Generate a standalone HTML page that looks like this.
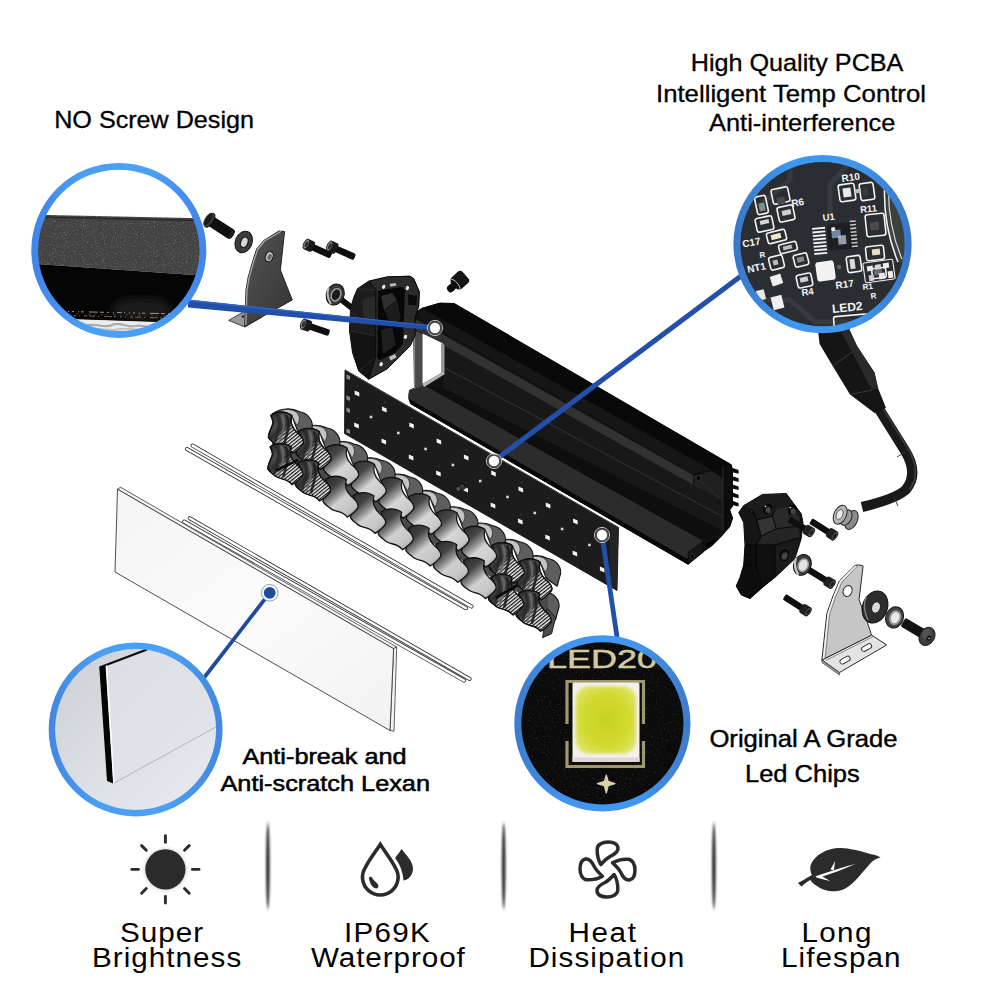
<!DOCTYPE html>
<html lang="en"><head><meta charset="utf-8"><title>LED light bar exploded view</title>
<style>
html,body{margin:0;padding:0;background:#fff;}
body{width:1001px;height:1001px;overflow:hidden;font-family:"Liberation Sans",sans-serif;}
svg{display:block;}
svg text{font-family:"Liberation Sans",sans-serif;}
</style></head><body>
<svg width="1001" height="1001" viewBox="0 0 1001 1001">
<defs>
<clipPath id="c1"><circle cx="118.8" cy="250.4" r="81.5"/></clipPath>
<clipPath id="c2"><circle cx="822.5" cy="244.2" r="82.8"/></clipPath>
<clipPath id="c3"><circle cx="602.4" cy="723.4" r="81.8"/></clipPath>
<clipPath id="c4"><circle cx="135.6" cy="729.5" r="81"/></clipPath>
<linearGradient id="rg1" x1="0" y1="0" x2="1" y2="0"><stop offset="0" stop-color="#4285eb"/><stop offset="0.3" stop-color="#4aa0f4"/><stop offset="0.7" stop-color="#4aa0f4"/><stop offset="1" stop-color="#4285eb"/></linearGradient>
<linearGradient id="rg2" x1="0" y1="0" x2="1" y2="0"><stop offset="0" stop-color="#3a78c8"/><stop offset="0.3" stop-color="#3f97ee"/><stop offset="0.7" stop-color="#3f97ee"/><stop offset="1" stop-color="#3a78c8"/></linearGradient>
<linearGradient id="rg3" x1="0" y1="0" x2="1" y2="0"><stop offset="0" stop-color="#3e7dcd"/><stop offset="0.3" stop-color="#4096f0"/><stop offset="0.7" stop-color="#4096f0"/><stop offset="1" stop-color="#3e7dcd"/></linearGradient>
<linearGradient id="rg4" x1="0" y1="0" x2="1" y2="0"><stop offset="0" stop-color="#4488e2"/><stop offset="0.3" stop-color="#4aa0f4"/><stop offset="0.7" stop-color="#4aa0f4"/><stop offset="1" stop-color="#4488e2"/></linearGradient>
<linearGradient id="ring1" x1="0" y1="0" x2="0" y2="1"><stop offset="0" stop-color="#3d8fe8"/><stop offset="1" stop-color="#3a86dc"/></linearGradient>
<linearGradient id="cupg" x1="0.15" y1="0" x2="0.85" y2="1">
 <stop offset="0" stop-color="#303030"/><stop offset="0.25" stop-color="#474747"/><stop offset="0.42" stop-color="#909090"/><stop offset="0.56" stop-color="#d6d6d6"/><stop offset="0.85" stop-color="#cacaca"/><stop offset="1" stop-color="#9c9c9c"/>
</linearGradient>
<linearGradient id="cupg2" x1="0.15" y1="0" x2="0.85" y2="1">
 <stop offset="0" stop-color="#2c2c2c"/><stop offset="0.25" stop-color="#434343"/><stop offset="0.42" stop-color="#8a8a8a"/><stop offset="0.56" stop-color="#d0d0d0"/><stop offset="0.85" stop-color="#c4c4c4"/><stop offset="1" stop-color="#969696"/>
</linearGradient>
<linearGradient id="capg" x1="0" y1="0" x2="1" y2="0.4">
 <stop offset="0" stop-color="#e8e8e8"/><stop offset="0.5" stop-color="#a8a8a8"/><stop offset="1" stop-color="#3a3a3a"/>
</linearGradient>
<linearGradient id="glassg" x1="0" y1="0" x2="1" y2="1"><stop offset="0" stop-color="#f4f4f4"/><stop offset="0.5" stop-color="#fbfbfb"/><stop offset="1" stop-color="#f2f2f2"/></linearGradient>
<linearGradient id="lexg" x1="0" y1="0" x2="1" y2="1"><stop offset="0" stop-color="#c9ccd1"/><stop offset="0.5" stop-color="#dcdfe4"/><stop offset="1" stop-color="#eaeef5"/></linearGradient>
<linearGradient id="divg" x1="0" y1="0" x2="0" y2="1"><stop offset="0" stop-color="#555" stop-opacity="0"/><stop offset="0.25" stop-color="#444" stop-opacity="0.95"/><stop offset="0.75" stop-color="#444" stop-opacity="0.95"/><stop offset="1" stop-color="#555" stop-opacity="0"/></linearGradient>
<linearGradient id="brkR" x1="0" y1="0" x2="1" y2="1"><stop offset="0" stop-color="#d2d2d2"/><stop offset="1" stop-color="#a9a9a9"/></linearGradient>
<linearGradient id="brkL" x1="0" y1="0" x2="1" y2="1"><stop offset="0" stop-color="#555"/><stop offset="1" stop-color="#333"/></linearGradient>
<linearGradient id="cabg" x1="0" y1="0" x2="1" y2="0"><stop offset="0" stop-color="#111"/><stop offset="0.6" stop-color="#222"/><stop offset="1" stop-color="#3a3a3a"/></linearGradient>
<radialGradient id="ledg" cx="0.5" cy="0.5" r="0.65"><stop offset="0" stop-color="#c8d222"/><stop offset="0.6" stop-color="#d2da30"/><stop offset="1" stop-color="#e2e670"/></radialGradient>
<filter id="speck" x="0" y="0" width="100%" height="100%"><feTurbulence type="fractalNoise" baseFrequency="0.9" numOctaves="2" seed="3" result="n"/><feColorMatrix type="matrix" values="0 0 0 0 0.62  0 0 0 0 0.62  0 0 0 0 0.62  0 0 0 2.2 -1.25"/></filter>
<filter id="speck2" x="0" y="0" width="100%" height="100%"><feTurbulence type="fractalNoise" baseFrequency="0.5" numOctaves="2" seed="11" result="n"/><feColorMatrix type="matrix" values="0 0 0 0 0.55  0 0 0 0 0.58  0 0 0 0 0.55  0 0 0 2.5 -1.55"/></filter>
<filter id="blur08" x="-300%" y="-10%" width="700%" height="120%"><feGaussianBlur stdDeviation="0.9 2.2"/></filter>
<filter id="blur1"><feGaussianBlur stdDeviation="0.6"/></filter>
<filter id="blur2"><feGaussianBlur stdDeviation="1.5"/></filter>
<filter id="blur4"><feGaussianBlur stdDeviation="4"/></filter>
<pattern id="hatch" width="2.7" height="2.7" patternUnits="userSpaceOnUse" patternTransform="rotate(51)"><rect width="2.7" height="2.7" fill="#f4f4f4"/><rect width="1.25" height="2.7" fill="#111"/></pattern>
<linearGradient id="hmg" x1="0.1" y1="0" x2="0.9" y2="1"><stop offset="0" stop-color="#000"/><stop offset="0.42" stop-color="#000"/><stop offset="0.55" stop-color="#fff"/><stop offset="1" stop-color="#fff"/></linearGradient>
<mask id="hm" maskContentUnits="objectBoundingBox"><rect x="-0.1" y="-0.1" width="1.2" height="1.2" fill="url(#hmg)"/></mask>
<linearGradient id="cupd" x1="0.15" y1="0" x2="0.85" y2="1"><stop offset="0" stop-color="#2a2a2a"/><stop offset="0.25" stop-color="#4c4c4c"/><stop offset="0.4" stop-color="#2e2e2e"/><stop offset="0.55" stop-color="#6a6a6a"/><stop offset="1" stop-color="#8a8a8a"/></linearGradient>
</defs>
<g id="cable">
<path d="M879,409 L904,449 Q919.5,473 906,489.5 Q897,498.5 862,507" fill="none" stroke="#191919" stroke-width="10.2" stroke-linecap="butt" stroke-linejoin="round"/>
<path d="M882.5,408 L907.5,448 Q922,472 909.5,489.5" fill="none" stroke="#4a4a4a" stroke-width="1.4" opacity="0.8"/>
<path d="M905.5,452 L897,457 M894,497 L898,506" stroke="#333" stroke-width="0.9"/>
<path d="M858.0,396.0 L872.0,390.0" stroke="#2f2f2f" stroke-width="1.1"/>
<path d="M860.6,398.6 L874.6,392.6" stroke="#2f2f2f" stroke-width="1.1"/>
<path d="M863.2,401.2 L877.2,395.2" stroke="#2f2f2f" stroke-width="1.1"/>
<path d="M865.8,403.8 L879.8,397.8" stroke="#2f2f2f" stroke-width="1.1"/>
<path d="M868.4,406.4 L882.4,400.4" stroke="#2f2f2f" stroke-width="1.1"/>
<polygon points="817.0,322.0 846.0,322.0 857.0,346.0 874.5,372.5 878.0,388.0 886.0,408.0 874.5,413.0 860.0,402.0 850.0,394.5 832.7,366.0 819.6,344.0" fill="#151515" />
<polygon points="846.0,322.0 857.0,346.0 874.5,372.5 878.0,388.0 872.0,390.0 852.0,352.0 840.0,330.0" fill="#2a2a2a" />
<path d="M832.7,366 L852,352 M850,394.5 L872,390" stroke="#3a3a3a" stroke-width="1" fill="none"/>
</g>
<g id="housing">
<polygon points="413.0,314.0 421.6,308.0 439.6,302.8 454.0,303.0 731.5,464.5 733.0,470.0 733.0,506.0 730.0,510.0 733.0,518.0 730.0,527.0 721.7,536.5 712.0,546.3 703.5,552.0 688.0,564.5 410.5,404.0 408.5,398.5 408.5,393.0 414.0,388.0" fill="#111111" />
<polygon points="731.0,467.5 738.6,470.1 738.6,473.7 731.0,471.9" fill="#0d0d0d" />
<polygon points="731.0,475.7 738.6,478.3 738.6,481.9 731.0,480.1" fill="#0d0d0d" />
<polygon points="731.0,483.9 738.6,486.5 738.6,490.1 731.0,488.3" fill="#0d0d0d" />
<polygon points="731.0,492.1 738.6,494.7 738.6,498.3 731.0,496.5" fill="#0d0d0d" />
<polygon points="731.0,500.3 738.6,502.9 738.6,506.5 731.0,504.7" fill="#0d0d0d" />
<polygon points="421.6,308.0 439.6,302.8 454.0,303.0 731.5,464.5 712.0,470.0" fill="#090909" />
<polygon points="413.0,314.0 421.6,308.0 712.0,470.0 693.0,474.0" fill="#161616" />
<polygon points="413.5,318.0 693.0,475.0 693.0,486.0 414.0,329.0" fill="#323232" />
<polygon points="414.0,329.0 693.0,486.0 693.0,491.0 414.0,334.0" fill="#0a0a0a" />
<polygon points="443.0,345.0 723.0,501.5 723.0,531.0 443.0,388.0" fill="#181818" />
<polygon points="443.0,366.0 723.0,516.0 723.0,517.6 443.0,367.8" fill="#2a2a2a" />
<polygon points="409.0,390.0 422.0,384.0 703.5,541.0 703.5,552.0 688.0,564.5 410.5,404.0 408.5,398.5" fill="#2c2c2c" />
<polygon points="408.5,398.5 688.0,559.3 688.0,564.5 410.5,404.0" fill="#070707" />
<polygon points="422.0,384.0 443.0,388.0 723.0,531.0 703.5,541.0" fill="#0e0e0e" />
<polygon points="414.0,330.0 422.5,334.0 422.5,386.0 414.0,389.0" fill="#4a4a4a" />
<path d="M414.6,330 L414.6,389" stroke="#8a8a8a" stroke-width="1"/>
<polygon points="422.5,333.5 443.0,343.5 443.0,372.0 422.5,384.0" fill="#ffffff" />
<polygon points="441.0,343.0 444.5,345.0 444.5,373.0 441.0,374.0" fill="#9a9a9a" />
<polygon points="422.5,384.0 443.0,372.0 445.0,374.0 424.0,387.0" fill="#b5b5b5" />
<polygon points="693.0,474.0 712.0,470.0 731.5,464.5 733.0,470.0 733.0,506.0 730.0,510.0 733.0,518.0 730.0,527.0 723.0,531.0 723.0,501.5" fill="#0c0c0c" />
<polygon points="694.0,476.0 712.0,471.0 723.0,478.0 723.0,501.0 694.0,486.0" fill="#202020" />
<path d="M723,466.6 L723,531 M694,476 L723,501" stroke="#2e2e2e" stroke-width="0.9" fill="none"/>
<circle cx="698.5" cy="478" r="2.6" fill="#050505" stroke="#3a3a3a" stroke-width="0.8"/>
<circle cx="706" cy="474" r="1.5" fill="#050505" stroke="#3a3a3a" stroke-width="0.6"/>
<polygon points="688.0,552.5 703.5,541.0 703.5,552.0 688.0,564.5" fill="#151515" stroke="#000" stroke-width="0.5" stroke-linejoin="round" />
<circle cx="692.5" cy="556.5" r="2.4" fill="#050505" stroke="#3a3a3a" stroke-width="0.8"/>
<polygon points="705.0,545.0 716.0,538.0 716.0,541.0 705.0,549.0" fill="#000" />
</g>
<g id="leftparts">
<g transform="translate(209.7,220.3) rotate(33)"><rect x="0" y="-5.4" width="27" height="10.8" rx="3" fill="#0f0f0f"/><ellipse cx="26" cy="0" rx="2.2" ry="5.2" fill="#1e1e1e"/><ellipse cx="0" cy="0" rx="3.6" ry="8" fill="#2e2e2e" stroke="#0a0a0a" stroke-width="0.8"/><ellipse cx="-1.6" cy="0" rx="3.2" ry="7.4" fill="#1a1a1a" stroke="#555" stroke-width="0.7"/></g>
<ellipse cx="243.7" cy="242" rx="8.4" ry="11" transform="rotate(22 243.7 242)" fill="#3c3c3c" stroke="#151515" stroke-width="1"/><ellipse cx="244.3" cy="242.3" rx="3.6" ry="5.4" transform="rotate(22 244.3 242.3)" fill="#d4d4d4" stroke="#161616" stroke-width="1.2"/>
<polygon points="228.6,320.4 245.0,311.0 262.0,317.0 245.0,327.0" fill="#9a9a9a" stroke="#222" stroke-width="0.8" stroke-linejoin="round" />
<polygon points="284.6,231.5 279.0,231.0 263.6,240.6 256.6,249.0 253.0,260.2 248.2,277.0 246.0,289.6 244.7,326.5 292.3,300.0 280.4,270.0" fill="url(#brkL)" stroke="#1a1a1a" stroke-width="0.9" stroke-linejoin="round" />
<path d="M281,231.3 L264.5,241 L257.6,249.5 L254,260.5 L249.2,277.2 L247,289.8 L245.8,325" fill="none" stroke="#a8a8a8" stroke-width="1.3" stroke-linejoin="round"/>
<ellipse cx="269.2" cy="256.7" rx="3.8" ry="5.2" transform="rotate(22 269.2 256.7)" fill="#c2c2c2" stroke="#111" stroke-width="1"/><ellipse cx="269.6" cy="257" rx="2" ry="3.2" transform="rotate(22 269.6 257)" fill="#6a6a6a"/>
<circle cx="243" cy="316.5" r="1.3" fill="#222"/>
<g transform="translate(304,243) rotate(25)"><rect x="9" y="-3.3" width="21" height="6.6" rx="2" fill="#0e0e0e"/><rect x="0.5" y="-5.7" width="10" height="11.4" rx="2.6" fill="#1a1a1a"/><ellipse cx="2.4" cy="0" rx="2.5" ry="5.3" fill="#8c8c8c" stroke="#1a1a1a" stroke-width="0.8"/><ellipse cx="2.7" cy="0" rx="1.4" ry="3.2" fill="#2e2e2e"/></g>
<g transform="translate(327.4,245) rotate(24)"><rect x="9" y="-3.3" width="21" height="6.6" rx="2" fill="#0e0e0e"/><rect x="0.5" y="-5.7" width="10" height="11.4" rx="2.6" fill="#1a1a1a"/><ellipse cx="2.4" cy="0" rx="2.5" ry="5.3" fill="#8c8c8c" stroke="#1a1a1a" stroke-width="0.8"/><ellipse cx="2.7" cy="0" rx="1.4" ry="3.2" fill="#2e2e2e"/></g>
<g transform="translate(301,323.3) rotate(19)"><rect x="9" y="-3.3" width="21" height="6.6" rx="2" fill="#0e0e0e"/><rect x="0.5" y="-5.7" width="10" height="11.4" rx="2.6" fill="#1a1a1a"/><ellipse cx="2.4" cy="0" rx="2.5" ry="5.3" fill="#8c8c8c" stroke="#1a1a1a" stroke-width="0.8"/><ellipse cx="2.7" cy="0" rx="1.4" ry="3.2" fill="#2e2e2e"/></g>
<g transform="translate(338,297) rotate(38)"><rect x="0" y="-3" width="22" height="6" fill="#0e0e0e"/></g>
<ellipse cx="335.2" cy="294.5" rx="8.8" ry="10.8" transform="rotate(22 335.2 294.5)" fill="#383838" stroke="#141414" stroke-width="1"/>
<path d="M328.6,288 Q325.8,296 331,304" fill="none" stroke="#b8b8b8" stroke-width="2"/>
<ellipse cx="336" cy="294.8" rx="4.6" ry="6.4" transform="rotate(22 336 294.8)" fill="#1a1a1a" stroke="#a8a8a8" stroke-width="1.4"/>
<polygon points="357.5,288.7 368.7,281.2 387.4,276.9 410.0,276.2 413.7,278.7 419.3,291.8 418.7,306.2 415.0,317.4 415.0,335.0 410.0,346.0 398.7,357.4 387.4,368.6 368.7,379.2 358.7,371.0 352.5,352.4 349.4,330.0 350.6,308.7 353.7,297.5" fill="#161616" stroke="#000" stroke-width="0.9" stroke-linejoin="round" />
<polygon points="357.5,288.7 368.7,281.2 376.0,290.0 375.6,357.4 368.7,379.2 358.7,371.0 352.5,352.4 349.4,330.0 350.6,308.7" fill="#1c1c1c" />
<polygon points="362.0,300.0 375.0,296.0 375.6,318.0 364.0,322.0" fill="#2a2a2a" />
<polygon points="351.0,331.0 375.6,336.0 375.6,357.4 368.7,379.2 358.7,371.0 352.5,352.4" fill="#131313" />
<path d="M357.5,288.7 L376,290 M350,312 L364,322 L375.6,318 M351,331 L375.6,336 M358.7,371 L375.6,357.4" stroke="#303030" stroke-width="0.8" fill="none"/>
<polygon points="368.7,281.2 387.4,276.9 410.0,276.2 413.7,278.7 419.3,291.8 418.7,306.2 415.0,317.4 415.0,335.0 410.0,346.0 398.7,357.4 387.4,368.6 368.7,379.2 375.6,357.4 376.0,290.0" fill="#2b2b2b" stroke="#000" stroke-width="0.7" stroke-linejoin="round" />
<polygon points="378.5,291.0 402.4,287.2 404.6,290.5 402.4,343.7 395.0,352.4 379.5,360.0 377.8,357.0" fill="#070707" stroke="#000" stroke-width="0.6" stroke-linejoin="round" />
<polygon points="381.0,296.0 392.0,293.0 397.0,300.0 384.0,310.0" fill="#2e2e2e" />
<polygon points="384.0,310.0 397.0,300.0 401.0,318.0 392.0,327.0" fill="#1c1c1c" />
<polygon points="381.0,330.0 392.0,327.0 396.0,345.0 383.0,354.0" fill="#1f1f1f" />
<polygon points="407.4,293.7 417.4,295.5 417.0,306.2 408.0,305.0" fill="#0a0a0a" stroke="#3a3a3a" stroke-width="0.6" stroke-linejoin="round" />
<ellipse cx="383.7" cy="286.8" rx="1.615" ry="2.1849999999999996" fill="#f2f2f2" transform="rotate(20 383.7 286.8)"/>
<ellipse cx="407.4" cy="288" rx="1.615" ry="2.1849999999999996" fill="#f2f2f2" transform="rotate(20 407.4 288)"/>
<ellipse cx="405.5" cy="336.8" rx="1.615" ry="2.1849999999999996" fill="#f2f2f2" transform="rotate(20 405.5 336.8)"/>
<ellipse cx="381.2" cy="364.2" rx="1.615" ry="2.1849999999999996" fill="#f2f2f2" transform="rotate(20 381.2 364.2)"/>
<polygon points="389.5,284.0 395.5,283.0 396.5,285.5 390.5,286.8" fill="#bdbdbd" />
<polygon points="389.0,357.0 395.0,354.0 396.5,357.5 390.5,360.5" fill="#bdbdbd" />
<g transform="translate(459.5,280.5) rotate(-42)"><rect x="-15.5" y="-3.6" width="10" height="7.2" rx="3.2" fill="#0c0c0c"/><rect x="-7" y="-7.6" width="15" height="15.2" rx="3.5" fill="#161616"/><ellipse cx="-6" cy="0" rx="2.6" ry="6.6" fill="#0a0a0a" stroke="#c8c8c8" stroke-width="0.9"/><rect x="-13" y="-3.4" width="8" height="6.8" rx="2" fill="#0c0c0c"/></g>
</g>
<g id="pcb">
<polygon points="345.0,370.0 618.5,527.5 617.0,590.5 344.5,433.5" fill="#1c1c1c" stroke="#0a0a0a" stroke-width="0.8" stroke-linejoin="round" />
<path d="M345,370 L618.5,527.5" stroke="#4c4c4c" stroke-width="1"/>
<polygon points="610.0,523.5 618.5,528.0 617.0,590.5 609.0,585.8" fill="#242424" />
<polygon points="354.7,390.5 359.3,392.5 359.3,396.5 354.7,394.5" fill="#f2f2f2"/>
<circle cx="357.5" cy="386.4" r="0.8" fill="#3a3a3a"/>
<polygon points="354.2,422.6 358.8,424.6 358.8,428.6 354.2,426.6" fill="#f2f2f2"/>
<circle cx="357.0" cy="418.5" r="0.8" fill="#3a3a3a"/>
<rect x="369.7" y="415.7" width="2.6" height="2.6" fill="#d8d8d8"/>
<polygon points="382.0,406.5 386.6,408.5 386.6,412.5 382.0,410.5" fill="#f2f2f2"/>
<circle cx="384.8" cy="402.4" r="0.8" fill="#3a3a3a"/>
<polygon points="381.5,438.6 386.1,440.6 386.1,444.6 381.5,442.6" fill="#f2f2f2"/>
<circle cx="384.3" cy="434.5" r="0.8" fill="#3a3a3a"/>
<rect x="397.0" y="431.7" width="2.6" height="2.6" fill="#d8d8d8"/>
<polygon points="409.3,422.5 413.9,424.5 413.9,428.5 409.3,426.5" fill="#f2f2f2"/>
<circle cx="412.1" cy="418.4" r="0.8" fill="#3a3a3a"/>
<polygon points="408.8,454.6 413.4,456.6 413.4,460.6 408.8,458.6" fill="#f2f2f2"/>
<circle cx="411.6" cy="450.5" r="0.8" fill="#3a3a3a"/>
<rect x="424.3" y="447.7" width="2.6" height="2.6" fill="#d8d8d8"/>
<polygon points="436.6,438.5 441.2,440.5 441.2,444.5 436.6,442.5" fill="#f2f2f2"/>
<circle cx="439.4" cy="434.4" r="0.8" fill="#3a3a3a"/>
<polygon points="436.1,470.6 440.7,472.6 440.7,476.6 436.1,474.6" fill="#f2f2f2"/>
<circle cx="438.9" cy="466.5" r="0.8" fill="#3a3a3a"/>
<rect x="451.6" y="463.7" width="2.6" height="2.6" fill="#d8d8d8"/>
<polygon points="463.9,454.5 468.5,456.5 468.5,460.5 463.9,458.5" fill="#f2f2f2"/>
<circle cx="466.7" cy="450.4" r="0.8" fill="#3a3a3a"/>
<polygon points="463.4,486.6 468.0,488.6 468.0,492.6 463.4,490.6" fill="#f2f2f2"/>
<circle cx="466.2" cy="482.5" r="0.8" fill="#3a3a3a"/>
<rect x="478.9" y="479.7" width="2.6" height="2.6" fill="#d8d8d8"/>
<polygon points="491.2,470.5 495.8,472.5 495.8,476.5 491.2,474.5" fill="#f2f2f2"/>
<circle cx="494.0" cy="466.4" r="0.8" fill="#3a3a3a"/>
<polygon points="490.7,502.6 495.3,504.6 495.3,508.6 490.7,506.6" fill="#f2f2f2"/>
<circle cx="493.5" cy="498.5" r="0.8" fill="#3a3a3a"/>
<rect x="506.2" y="495.7" width="2.6" height="2.6" fill="#d8d8d8"/>
<polygon points="518.5,486.5 523.1,488.5 523.1,492.5 518.5,490.5" fill="#f2f2f2"/>
<circle cx="521.3" cy="482.4" r="0.8" fill="#3a3a3a"/>
<polygon points="518.0,518.6 522.6,520.6 522.6,524.6 518.0,522.6" fill="#f2f2f2"/>
<circle cx="520.8" cy="514.5" r="0.8" fill="#3a3a3a"/>
<rect x="533.5" y="511.7" width="2.6" height="2.6" fill="#d8d8d8"/>
<polygon points="545.8,502.5 550.4,504.5 550.4,508.5 545.8,506.5" fill="#f2f2f2"/>
<circle cx="548.6" cy="498.4" r="0.8" fill="#3a3a3a"/>
<polygon points="545.3,534.6 549.9,536.6 549.9,540.6 545.3,538.6" fill="#f2f2f2"/>
<circle cx="548.1" cy="530.5" r="0.8" fill="#3a3a3a"/>
<rect x="560.8" y="527.7" width="2.6" height="2.6" fill="#d8d8d8"/>
<polygon points="573.1,518.5 577.7,520.5 577.7,524.5 573.1,522.5" fill="#f2f2f2"/>
<circle cx="575.9" cy="514.4" r="0.8" fill="#3a3a3a"/>
<polygon points="572.6,550.6 577.2,552.6 577.2,556.6 572.6,554.6" fill="#f2f2f2"/>
<circle cx="575.4" cy="546.5" r="0.8" fill="#3a3a3a"/>
<rect x="588.1" y="543.7" width="2.6" height="2.6" fill="#d8d8d8"/>
<polygon points="600.4,534.5 605.0,536.5 605.0,540.5 600.4,538.5" fill="#f2f2f2"/>
<circle cx="603.2" cy="530.4" r="0.8" fill="#3a3a3a"/>
<polygon points="599.9,566.6 604.5,568.6 604.5,572.6 599.9,570.6" fill="#f2f2f2"/>
<circle cx="602.7" cy="562.5" r="0.8" fill="#3a3a3a"/>
<polygon points="346.5,374.5 350,376 350,380 346.5,378.5" fill="#8a8a8a"/>
<polygon points="346.5,395.5 350,397 350,401 346.5,399.5" fill="#8a8a8a"/>
<polygon points="346.5,407.5 350,409 350,413 346.5,411.5" fill="#8a8a8a"/>
<polygon points="346.5,428.5 350,430 350,434 346.5,432.5" fill="#8a8a8a"/>
<g transform="translate(461,487.5) rotate(-28)"><rect x="-4" y="-3" width="8" height="6" rx="1.5" fill="#3a3a3a" stroke="#000" stroke-width="0.6"/><circle cx="-3" cy="0" r="2.4" fill="#555" stroke="#000" stroke-width="0.6"/></g>
</g>
<g id="reflector">
<path d="M517.6,595.7 C523.6,588.7 537.6,587.2 545.6,591.7 C553.6,592.7 559.6,599.7 559.1,606.7 L555.6,619.7 L544.6,611.7 538.6,595.7Z" fill="#5e5e5e" stroke="#111" stroke-width="1.1" stroke-linejoin="round"/><path d="M523.6,592.2 C529.6,588.7 539.6,588.7 544.1,593.2 C547.1,597.7 546.6,601.7 543.6,605.7 L538.6,595.7 C532.6,591.2 526.6,591.2 523.6,592.2Z" fill="#c4c4c4" stroke="#222" stroke-width="0.7" stroke-linejoin="round"/>
<polygon points="546.6,607.7 555.6,617.7 551.6,633.7 542.6,637.7" fill="#4a4a4a" stroke="#111" stroke-width="0.9" stroke-linejoin="round" />
<path d="M519.2,562.2 C525.2,555.2 539.2,553.7 547.2,558.2 C555.2,559.2 561.2,566.2 560.7,573.2 L557.2,586.2 L546.2,578.2 540.2,562.2Z" fill="#5e5e5e" stroke="#111" stroke-width="1.1" stroke-linejoin="round"/><path d="M525.2,558.7 C531.2,555.2 541.2,555.2 545.7,559.7 C548.7,564.2 548.2,568.2 545.2,572.2 L540.2,562.2 C534.2,557.7 528.2,557.7 525.2,558.7Z" fill="#c4c4c4" stroke="#222" stroke-width="0.7" stroke-linejoin="round"/>
<path d="M491.6,545.9 C497.6,538.9 511.6,537.4 519.6,541.9 C527.6,542.9 533.6,549.9 533.1,556.9 L529.6,569.9 L518.6,561.9 512.6,545.9Z" fill="#5e5e5e" stroke="#111" stroke-width="1.1" stroke-linejoin="round"/><path d="M497.6,542.4 C503.6,538.9 513.6,538.9 518.1,543.4 C521.1,547.9 520.6,551.9 517.6,555.9 L512.6,545.9 C506.6,541.4 500.6,541.4 497.6,542.4Z" fill="#c4c4c4" stroke="#222" stroke-width="0.7" stroke-linejoin="round"/>
<path d="M464.0,529.6 C470.0,522.6 484.0,521.1 492.0,525.6 C500.0,526.6 506.0,533.6 505.5,540.6 L502.0,553.6 L491.0,545.6 485.0,529.6Z" fill="#5e5e5e" stroke="#111" stroke-width="1.1" stroke-linejoin="round"/><path d="M470.0,526.1 C476.0,522.6 486.0,522.6 490.5,527.1 C493.5,531.6 493.0,535.6 490.0,539.6 L485.0,529.6 C479.0,525.1 473.0,525.1 470.0,526.1Z" fill="#c4c4c4" stroke="#222" stroke-width="0.7" stroke-linejoin="round"/>
<path d="M436.4,513.3 C442.4,506.3 456.4,504.8 464.4,509.3 C472.4,510.3 478.4,517.3 477.9,524.3 L474.4,537.3 L463.4,529.3 457.4,513.3Z" fill="#5e5e5e" stroke="#111" stroke-width="1.1" stroke-linejoin="round"/><path d="M442.4,509.8 C448.4,506.3 458.4,506.3 462.9,510.8 C465.9,515.3 465.4,519.3 462.4,523.3 L457.4,513.3 C451.4,508.8 445.4,508.8 442.4,509.8Z" fill="#c4c4c4" stroke="#222" stroke-width="0.7" stroke-linejoin="round"/>
<path d="M408.8,497.0 C414.8,490.0 428.8,488.5 436.8,493.0 C444.8,494.0 450.8,501.0 450.3,508.0 L446.8,521.0 L435.8,513.0 429.8,497.0Z" fill="#5e5e5e" stroke="#111" stroke-width="1.1" stroke-linejoin="round"/><path d="M414.8,493.5 C420.8,490.0 430.8,490.0 435.3,494.5 C438.3,499.0 437.8,503.0 434.8,507.0 L429.8,497.0 C423.8,492.5 417.8,492.5 414.8,493.5Z" fill="#c4c4c4" stroke="#222" stroke-width="0.7" stroke-linejoin="round"/>
<path d="M381.2,480.7 C387.2,473.7 401.2,472.2 409.2,476.7 C417.2,477.7 423.2,484.7 422.7,491.7 L419.2,504.7 L408.2,496.7 402.2,480.7Z" fill="#5e5e5e" stroke="#111" stroke-width="1.1" stroke-linejoin="round"/><path d="M387.2,477.2 C393.2,473.7 403.2,473.7 407.7,478.2 C410.7,482.7 410.2,486.7 407.2,490.7 L402.2,480.7 C396.2,476.2 390.2,476.2 387.2,477.2Z" fill="#c4c4c4" stroke="#222" stroke-width="0.7" stroke-linejoin="round"/>
<path d="M353.6,464.4 C359.6,457.4 373.6,455.9 381.6,460.4 C389.6,461.4 395.6,468.4 395.1,475.4 L391.6,488.4 L380.6,480.4 374.6,464.4Z" fill="#5e5e5e" stroke="#111" stroke-width="1.1" stroke-linejoin="round"/><path d="M359.6,460.9 C365.6,457.4 375.6,457.4 380.1,461.9 C383.1,466.4 382.6,470.4 379.6,474.4 L374.6,464.4 C368.6,459.9 362.6,459.9 359.6,460.9Z" fill="#c4c4c4" stroke="#222" stroke-width="0.7" stroke-linejoin="round"/>
<path d="M326.0,448.1 C332.0,441.1 346.0,439.6 354.0,444.1 C362.0,445.1 368.0,452.1 367.5,459.1 L364.0,472.1 L353.0,464.1 347.0,448.1Z" fill="#5e5e5e" stroke="#111" stroke-width="1.1" stroke-linejoin="round"/><path d="M332.0,444.6 C338.0,441.1 348.0,441.1 352.5,445.6 C355.5,450.1 355.0,454.1 352.0,458.1 L347.0,448.1 C341.0,443.6 335.0,443.6 332.0,444.6Z" fill="#c4c4c4" stroke="#222" stroke-width="0.7" stroke-linejoin="round"/>
<path d="M298.4,431.8 C304.4,424.8 318.4,423.3 326.4,427.8 C334.4,428.8 340.4,435.8 339.9,442.8 L336.4,455.8 L325.4,447.8 319.4,431.8Z" fill="#5e5e5e" stroke="#111" stroke-width="1.1" stroke-linejoin="round"/><path d="M304.4,428.3 C310.4,424.8 320.4,424.8 324.9,429.3 C327.9,433.8 327.4,437.8 324.4,441.8 L319.4,431.8 C313.4,427.3 307.4,427.3 304.4,428.3Z" fill="#c4c4c4" stroke="#222" stroke-width="0.7" stroke-linejoin="round"/>
<path d="M270.8,415.5 C276.8,408.5 290.8,407.0 298.8,411.5 C306.8,412.5 312.8,419.5 312.3,426.5 L308.8,439.5 L297.8,431.5 291.8,415.5Z" fill="#5e5e5e" stroke="#111" stroke-width="1.1" stroke-linejoin="round"/><path d="M276.8,412.0 C282.8,408.5 292.8,408.5 297.3,413.0 C300.3,417.5 299.8,421.5 296.8,425.5 L291.8,415.5 C285.8,411.0 279.8,411.0 276.8,412.0Z" fill="#c4c4c4" stroke="#222" stroke-width="0.7" stroke-linejoin="round"/>
<polygon points="273.8,427.5 548.2,589.2 547.6,609.7 271.2,450.0" fill="#4a4a4a" />
<path d="M519.2,562.2 C524.2,557.7 534.2,557.7 540.2,562.2 C538.2,568.2 539.2,573.2 545.2,579.2 C550.2,583.2 552.7,586.2 551.7,590.2 C549.2,594.2 545.2,597.2 541.2,599.7 C535.2,592.2 527.2,595.2 522.8,589.8 C519.2,587.2 517.2,585.2 516.8,583.8 C517.2,578.2 521.2,572.2 521.6,569.4 C521.2,566.2 520.2,564.2 519.2,562.2Z" fill="url(#cupd)" stroke="#111" stroke-width="1.3" stroke-linejoin="round"/><path d="M519.2,562.2 C524.2,557.7 534.2,557.7 540.2,562.2 C538.2,568.2 539.2,573.2 545.2,579.2 C550.2,583.2 552.7,586.2 551.7,590.2 C549.2,594.2 545.2,597.2 541.2,599.7 C535.2,592.2 527.2,595.2 522.8,589.8 C519.2,587.2 517.2,585.2 516.8,583.8 C517.2,578.2 521.2,572.2 521.6,569.4 C521.2,566.2 520.2,564.2 519.2,562.2Z" fill="url(#hatch)" mask="url(#hm)"/><path d="M525.2,560.7 C531.2,570.2 525.2,579.2 523.2,589.2" fill="none" stroke="#2a2a2a" stroke-width="3.2" opacity="0.9"/><path d="M529.8,561.3 C535.8,571.2 529.8,580.2 527.8,590.7" fill="none" stroke="#6a6a6a" stroke-width="2.2" opacity="0.9"/><path d="M534.4,561.9 C540.4,572.2 534.4,581.2 532.4,592.2" fill="none" stroke="#1e1e1e" stroke-width="2.6" opacity="0.9"/><path d="M519.2,562.2 C524.2,557.7 534.2,557.7 540.2,562.2 C538.2,568.2 539.2,573.2 545.2,579.2 C550.2,583.2 552.7,586.2 551.7,590.2 C549.2,594.2 545.2,597.2 541.2,599.7 C535.2,592.2 527.2,595.2 522.8,589.8 C519.2,587.2 517.2,585.2 516.8,583.8 C517.2,578.2 521.2,572.2 521.6,569.4 C521.2,566.2 520.2,564.2 519.2,562.2Z" fill="none" stroke="#111" stroke-width="1.3" stroke-linejoin="round"/>
<path d="M491.6,545.9 C496.6,541.4 506.6,541.4 512.6,545.9 C510.6,551.9 511.6,556.9 517.6,562.9 C522.6,566.9 525.1,569.9 524.1,573.9 C521.6,577.9 517.6,580.9 513.6,583.4 C507.6,575.9 499.6,578.9 495.2,573.5 C491.6,570.9 489.6,568.9 489.2,567.5 C489.6,561.9 493.6,555.9 494.0,553.1 C493.6,549.9 492.6,547.9 491.6,545.9Z" fill="url(#cupd)" stroke="#111" stroke-width="1.3" stroke-linejoin="round"/><path d="M491.6,545.9 C496.6,541.4 506.6,541.4 512.6,545.9 C510.6,551.9 511.6,556.9 517.6,562.9 C522.6,566.9 525.1,569.9 524.1,573.9 C521.6,577.9 517.6,580.9 513.6,583.4 C507.6,575.9 499.6,578.9 495.2,573.5 C491.6,570.9 489.6,568.9 489.2,567.5 C489.6,561.9 493.6,555.9 494.0,553.1 C493.6,549.9 492.6,547.9 491.6,545.9Z" fill="url(#hatch)" mask="url(#hm)"/><path d="M497.6,544.4 C503.6,553.9 497.6,562.9 495.6,572.9" fill="none" stroke="#2a2a2a" stroke-width="3.2" opacity="0.9"/><path d="M502.2,545.0 C508.2,554.9 502.2,563.9 500.2,574.4" fill="none" stroke="#6a6a6a" stroke-width="2.2" opacity="0.9"/><path d="M506.8,545.6 C512.8,555.9 506.8,564.9 504.8,575.9" fill="none" stroke="#1e1e1e" stroke-width="2.6" opacity="0.9"/><path d="M491.6,545.9 C496.6,541.4 506.6,541.4 512.6,545.9 C510.6,551.9 511.6,556.9 517.6,562.9 C522.6,566.9 525.1,569.9 524.1,573.9 C521.6,577.9 517.6,580.9 513.6,583.4 C507.6,575.9 499.6,578.9 495.2,573.5 C491.6,570.9 489.6,568.9 489.2,567.5 C489.6,561.9 493.6,555.9 494.0,553.1 C493.6,549.9 492.6,547.9 491.6,545.9Z" fill="none" stroke="#111" stroke-width="1.3" stroke-linejoin="round"/>
<path d="M464.0,529.6 C469.0,525.1 479.0,525.1 485.0,529.6 C483.0,535.6 484.0,540.6 490.0,546.6 C495.0,550.6 497.5,553.6 496.5,557.6 C494.0,561.6 490.0,564.6 486.0,567.1 C480.0,559.6 472.0,562.6 467.6,557.2 C464.0,554.6 462.0,552.6 461.6,551.2 C462.0,545.6 466.0,539.6 466.4,536.8 C466.0,533.6 465.0,531.6 464.0,529.6Z" fill="url(#cupg)" stroke="#111" stroke-width="1.3" stroke-linejoin="round"/>
<path d="M436.4,513.3 C441.4,508.8 451.4,508.8 457.4,513.3 C455.4,519.3 456.4,524.3 462.4,530.3 C467.4,534.3 469.9,537.3 468.9,541.3 C466.4,545.3 462.4,548.3 458.4,550.8 C452.4,543.3 444.4,546.3 440.0,540.9 C436.4,538.3 434.4,536.3 434.0,534.9 C434.4,529.3 438.4,523.3 438.8,520.5 C438.4,517.3 437.4,515.3 436.4,513.3Z" fill="url(#cupg)" stroke="#111" stroke-width="1.3" stroke-linejoin="round"/>
<path d="M408.8,497.0 C413.8,492.5 423.8,492.5 429.8,497.0 C427.8,503.0 428.8,508.0 434.8,514.0 C439.8,518.0 442.3,521.0 441.3,525.0 C438.8,529.0 434.8,532.0 430.8,534.5 C424.8,527.0 416.8,530.0 412.4,524.6 C408.8,522.0 406.8,520.0 406.4,518.6 C406.8,513.0 410.8,507.0 411.2,504.2 C410.8,501.0 409.8,499.0 408.8,497.0Z" fill="url(#cupg)" stroke="#111" stroke-width="1.3" stroke-linejoin="round"/>
<path d="M381.2,480.7 C386.2,476.2 396.2,476.2 402.2,480.7 C400.2,486.7 401.2,491.7 407.2,497.7 C412.2,501.7 414.7,504.7 413.7,508.7 C411.2,512.7 407.2,515.7 403.2,518.2 C397.2,510.7 389.2,513.7 384.8,508.3 C381.2,505.7 379.2,503.7 378.8,502.3 C379.2,496.7 383.2,490.7 383.6,487.9 C383.2,484.7 382.2,482.7 381.2,480.7Z" fill="url(#cupg)" stroke="#111" stroke-width="1.3" stroke-linejoin="round"/>
<path d="M353.6,464.4 C358.6,459.9 368.6,459.9 374.6,464.4 C372.6,470.4 373.6,475.4 379.6,481.4 C384.6,485.4 387.1,488.4 386.1,492.4 C383.6,496.4 379.6,499.4 375.6,501.9 C369.6,494.4 361.6,497.4 357.2,492.0 C353.6,489.4 351.6,487.4 351.2,486.0 C351.6,480.4 355.6,474.4 356.0,471.6 C355.6,468.4 354.6,466.4 353.6,464.4Z" fill="url(#cupg)" stroke="#111" stroke-width="1.3" stroke-linejoin="round"/>
<path d="M326.0,448.1 C331.0,443.6 341.0,443.6 347.0,448.1 C345.0,454.1 346.0,459.1 352.0,465.1 C357.0,469.1 359.5,472.1 358.5,476.1 C356.0,480.1 352.0,483.1 348.0,485.6 C342.0,478.1 334.0,481.1 329.6,475.7 C326.0,473.1 324.0,471.1 323.6,469.7 C324.0,464.1 328.0,458.1 328.4,455.3 C328.0,452.1 327.0,450.1 326.0,448.1Z" fill="url(#cupg)" stroke="#111" stroke-width="1.3" stroke-linejoin="round"/>
<path d="M298.4,431.8 C303.4,427.3 313.4,427.3 319.4,431.8 C317.4,437.8 318.4,442.8 324.4,448.8 C329.4,452.8 331.9,455.8 330.9,459.8 C328.4,463.8 324.4,466.8 320.4,469.3 C314.4,461.8 306.4,464.8 302.0,459.4 C298.4,456.8 296.4,454.8 296.0,453.4 C296.4,447.8 300.4,441.8 300.8,439.0 C300.4,435.8 299.4,433.8 298.4,431.8Z" fill="url(#cupd)" stroke="#111" stroke-width="1.3" stroke-linejoin="round"/><path d="M298.4,431.8 C303.4,427.3 313.4,427.3 319.4,431.8 C317.4,437.8 318.4,442.8 324.4,448.8 C329.4,452.8 331.9,455.8 330.9,459.8 C328.4,463.8 324.4,466.8 320.4,469.3 C314.4,461.8 306.4,464.8 302.0,459.4 C298.4,456.8 296.4,454.8 296.0,453.4 C296.4,447.8 300.4,441.8 300.8,439.0 C300.4,435.8 299.4,433.8 298.4,431.8Z" fill="url(#hatch)" mask="url(#hm)"/><path d="M304.4,430.3 C310.4,439.8 304.4,448.8 302.4,458.8" fill="none" stroke="#2a2a2a" stroke-width="3.2" opacity="0.9"/><path d="M309.0,430.9 C315.0,440.8 309.0,449.8 307.0,460.3" fill="none" stroke="#6a6a6a" stroke-width="2.2" opacity="0.9"/><path d="M313.6,431.5 C319.6,441.8 313.6,450.8 311.6,461.8" fill="none" stroke="#1e1e1e" stroke-width="2.6" opacity="0.9"/><path d="M298.4,431.8 C303.4,427.3 313.4,427.3 319.4,431.8 C317.4,437.8 318.4,442.8 324.4,448.8 C329.4,452.8 331.9,455.8 330.9,459.8 C328.4,463.8 324.4,466.8 320.4,469.3 C314.4,461.8 306.4,464.8 302.0,459.4 C298.4,456.8 296.4,454.8 296.0,453.4 C296.4,447.8 300.4,441.8 300.8,439.0 C300.4,435.8 299.4,433.8 298.4,431.8Z" fill="none" stroke="#111" stroke-width="1.3" stroke-linejoin="round"/>
<path d="M270.8,415.5 C275.8,411.0 285.8,411.0 291.8,415.5 C289.8,421.5 290.8,426.5 296.8,432.5 C301.8,436.5 304.3,439.5 303.3,443.5 C300.8,447.5 296.8,450.5 292.8,453.0 C286.8,445.5 278.8,448.5 274.4,443.1 C270.8,440.5 268.8,438.5 268.4,437.1 C268.8,431.5 272.8,425.5 273.2,422.7 C272.8,419.5 271.8,417.5 270.8,415.5Z" fill="url(#cupd)" stroke="#111" stroke-width="1.3" stroke-linejoin="round"/><path d="M270.8,415.5 C275.8,411.0 285.8,411.0 291.8,415.5 C289.8,421.5 290.8,426.5 296.8,432.5 C301.8,436.5 304.3,439.5 303.3,443.5 C300.8,447.5 296.8,450.5 292.8,453.0 C286.8,445.5 278.8,448.5 274.4,443.1 C270.8,440.5 268.8,438.5 268.4,437.1 C268.8,431.5 272.8,425.5 273.2,422.7 C272.8,419.5 271.8,417.5 270.8,415.5Z" fill="url(#hatch)" mask="url(#hm)"/><path d="M276.8,414.0 C282.8,423.5 276.8,432.5 274.8,442.5" fill="none" stroke="#2a2a2a" stroke-width="3.2" opacity="0.9"/><path d="M281.4,414.6 C287.4,424.5 281.4,433.5 279.4,444.0" fill="none" stroke="#6a6a6a" stroke-width="2.2" opacity="0.9"/><path d="M286.0,415.2 C292.0,425.5 286.0,434.5 284.0,445.5" fill="none" stroke="#1e1e1e" stroke-width="2.6" opacity="0.9"/><path d="M270.8,415.5 C275.8,411.0 285.8,411.0 291.8,415.5 C289.8,421.5 290.8,426.5 296.8,432.5 C301.8,436.5 304.3,439.5 303.3,443.5 C300.8,447.5 296.8,450.5 292.8,453.0 C286.8,445.5 278.8,448.5 274.4,443.1 C270.8,440.5 268.8,438.5 268.4,437.1 C268.8,431.5 272.8,425.5 273.2,422.7 C272.8,419.5 271.8,417.5 270.8,415.5Z" fill="none" stroke="#111" stroke-width="1.3" stroke-linejoin="round"/>
<path d="M518.6,593.7 C523.6,589.2 533.6,589.2 539.6,593.7 C537.6,599.7 538.6,604.7 544.6,610.7 C549.6,614.7 552.1,617.7 551.1,621.7 C548.6,625.7 544.6,628.7 540.6,631.2 C534.6,623.7 526.6,626.7 522.2,621.3 C518.6,618.7 516.6,616.7 516.2,615.3 C516.6,609.7 520.6,603.7 521.0,600.9 C520.6,597.7 519.6,595.7 518.6,593.7Z" fill="url(#cupd)" stroke="#111" stroke-width="1.3" stroke-linejoin="round"/><path d="M518.6,593.7 C523.6,589.2 533.6,589.2 539.6,593.7 C537.6,599.7 538.6,604.7 544.6,610.7 C549.6,614.7 552.1,617.7 551.1,621.7 C548.6,625.7 544.6,628.7 540.6,631.2 C534.6,623.7 526.6,626.7 522.2,621.3 C518.6,618.7 516.6,616.7 516.2,615.3 C516.6,609.7 520.6,603.7 521.0,600.9 C520.6,597.7 519.6,595.7 518.6,593.7Z" fill="url(#hatch)" mask="url(#hm)"/><path d="M524.6,592.2 C530.6,601.7 524.6,610.7 522.6,620.7" fill="none" stroke="#2a2a2a" stroke-width="3.2" opacity="0.9"/><path d="M529.2,592.8 C535.2,602.7 529.2,611.7 527.2,622.2" fill="none" stroke="#6a6a6a" stroke-width="2.2" opacity="0.9"/><path d="M533.8,593.4 C539.8,603.7 533.8,612.7 531.8,623.7" fill="none" stroke="#1e1e1e" stroke-width="2.6" opacity="0.9"/><path d="M518.6,593.7 C523.6,589.2 533.6,589.2 539.6,593.7 C537.6,599.7 538.6,604.7 544.6,610.7 C549.6,614.7 552.1,617.7 551.1,621.7 C548.6,625.7 544.6,628.7 540.6,631.2 C534.6,623.7 526.6,626.7 522.2,621.3 C518.6,618.7 516.6,616.7 516.2,615.3 C516.6,609.7 520.6,603.7 521.0,600.9 C520.6,597.7 519.6,595.7 518.6,593.7Z" fill="none" stroke="#111" stroke-width="1.3" stroke-linejoin="round"/>
<path d="M491.0,577.4 C496.0,572.9 506.0,572.9 512.0,577.4 C510.0,583.4 511.0,588.4 517.0,594.4 C522.0,598.4 524.5,601.4 523.5,605.4 C521.0,609.4 517.0,612.4 513.0,614.9 C507.0,607.4 499.0,610.4 494.6,605.0 C491.0,602.4 489.0,600.4 488.6,599.0 C489.0,593.4 493.0,587.4 493.4,584.6 C493.0,581.4 492.0,579.4 491.0,577.4Z" fill="url(#cupd)" stroke="#111" stroke-width="1.3" stroke-linejoin="round"/><path d="M491.0,577.4 C496.0,572.9 506.0,572.9 512.0,577.4 C510.0,583.4 511.0,588.4 517.0,594.4 C522.0,598.4 524.5,601.4 523.5,605.4 C521.0,609.4 517.0,612.4 513.0,614.9 C507.0,607.4 499.0,610.4 494.6,605.0 C491.0,602.4 489.0,600.4 488.6,599.0 C489.0,593.4 493.0,587.4 493.4,584.6 C493.0,581.4 492.0,579.4 491.0,577.4Z" fill="url(#hatch)" mask="url(#hm)"/><path d="M497.0,575.9 C503.0,585.4 497.0,594.4 495.0,604.4" fill="none" stroke="#2a2a2a" stroke-width="3.2" opacity="0.9"/><path d="M501.6,576.5 C507.6,586.4 501.6,595.4 499.6,605.9" fill="none" stroke="#6a6a6a" stroke-width="2.2" opacity="0.9"/><path d="M506.2,577.1 C512.2,587.4 506.2,596.4 504.2,607.4" fill="none" stroke="#1e1e1e" stroke-width="2.6" opacity="0.9"/><path d="M491.0,577.4 C496.0,572.9 506.0,572.9 512.0,577.4 C510.0,583.4 511.0,588.4 517.0,594.4 C522.0,598.4 524.5,601.4 523.5,605.4 C521.0,609.4 517.0,612.4 513.0,614.9 C507.0,607.4 499.0,610.4 494.6,605.0 C491.0,602.4 489.0,600.4 488.6,599.0 C489.0,593.4 493.0,587.4 493.4,584.6 C493.0,581.4 492.0,579.4 491.0,577.4Z" fill="none" stroke="#111" stroke-width="1.3" stroke-linejoin="round"/>
<path d="M463.4,561.1 C468.4,556.6 478.4,556.6 484.4,561.1 C482.4,567.1 483.4,572.1 489.4,578.1 C494.4,582.1 496.9,585.1 495.9,589.1 C493.4,593.1 489.4,596.1 485.4,598.6 C479.4,591.1 471.4,594.1 467.0,588.7 C463.4,586.1 461.4,584.1 461.0,582.7 C461.4,577.1 465.4,571.1 465.8,568.3 C465.4,565.1 464.4,563.1 463.4,561.1Z" fill="url(#cupg2)" stroke="#111" stroke-width="1.3" stroke-linejoin="round"/>
<path d="M435.8,544.8 C440.8,540.3 450.8,540.3 456.8,544.8 C454.8,550.8 455.8,555.8 461.8,561.8 C466.8,565.8 469.3,568.8 468.3,572.8 C465.8,576.8 461.8,579.8 457.8,582.3 C451.8,574.8 443.8,577.8 439.4,572.4 C435.8,569.8 433.8,567.8 433.4,566.4 C433.8,560.8 437.8,554.8 438.2,552.0 C437.8,548.8 436.8,546.8 435.8,544.8Z" fill="url(#cupg2)" stroke="#111" stroke-width="1.3" stroke-linejoin="round"/>
<path d="M408.2,528.5 C413.2,524.0 423.2,524.0 429.2,528.5 C427.2,534.5 428.2,539.5 434.2,545.5 C439.2,549.5 441.7,552.5 440.7,556.5 C438.2,560.5 434.2,563.5 430.2,566.0 C424.2,558.5 416.2,561.5 411.8,556.1 C408.2,553.5 406.2,551.5 405.8,550.1 C406.2,544.5 410.2,538.5 410.6,535.7 C410.2,532.5 409.2,530.5 408.2,528.5Z" fill="url(#cupg2)" stroke="#111" stroke-width="1.3" stroke-linejoin="round"/>
<path d="M380.6,512.2 C385.6,507.7 395.6,507.7 401.6,512.2 C399.6,518.2 400.6,523.2 406.6,529.2 C411.6,533.2 414.1,536.2 413.1,540.2 C410.6,544.2 406.6,547.2 402.6,549.7 C396.6,542.2 388.6,545.2 384.2,539.8 C380.6,537.2 378.6,535.2 378.2,533.8 C378.6,528.2 382.6,522.2 383.0,519.4 C382.6,516.2 381.6,514.2 380.6,512.2Z" fill="url(#cupg2)" stroke="#111" stroke-width="1.3" stroke-linejoin="round"/>
<path d="M353.0,495.9 C358.0,491.4 368.0,491.4 374.0,495.9 C372.0,501.9 373.0,506.9 379.0,512.9 C384.0,516.9 386.5,519.9 385.5,523.9 C383.0,527.9 379.0,530.9 375.0,533.4 C369.0,525.9 361.0,528.9 356.6,523.5 C353.0,520.9 351.0,518.9 350.6,517.5 C351.0,511.9 355.0,505.9 355.4,503.1 C355.0,499.9 354.0,497.9 353.0,495.9Z" fill="url(#cupg2)" stroke="#111" stroke-width="1.3" stroke-linejoin="round"/>
<path d="M325.4,479.6 C330.4,475.1 340.4,475.1 346.4,479.6 C344.4,485.6 345.4,490.6 351.4,496.6 C356.4,500.6 358.9,503.6 357.9,507.6 C355.4,511.6 351.4,514.6 347.4,517.1 C341.4,509.6 333.4,512.6 329.0,507.2 C325.4,504.6 323.4,502.6 323.0,501.2 C323.4,495.6 327.4,489.6 327.8,486.8 C327.4,483.6 326.4,481.6 325.4,479.6Z" fill="url(#cupg2)" stroke="#111" stroke-width="1.3" stroke-linejoin="round"/>
<path d="M297.8,463.3 C302.8,458.8 312.8,458.8 318.8,463.3 C316.8,469.3 317.8,474.3 323.8,480.3 C328.8,484.3 331.3,487.3 330.3,491.3 C327.8,495.3 323.8,498.3 319.8,500.8 C313.8,493.3 305.8,496.3 301.4,490.9 C297.8,488.3 295.8,486.3 295.4,484.9 C295.8,479.3 299.8,473.3 300.2,470.5 C299.8,467.3 298.8,465.3 297.8,463.3Z" fill="url(#cupd)" stroke="#111" stroke-width="1.3" stroke-linejoin="round"/><path d="M297.8,463.3 C302.8,458.8 312.8,458.8 318.8,463.3 C316.8,469.3 317.8,474.3 323.8,480.3 C328.8,484.3 331.3,487.3 330.3,491.3 C327.8,495.3 323.8,498.3 319.8,500.8 C313.8,493.3 305.8,496.3 301.4,490.9 C297.8,488.3 295.8,486.3 295.4,484.9 C295.8,479.3 299.8,473.3 300.2,470.5 C299.8,467.3 298.8,465.3 297.8,463.3Z" fill="url(#hatch)" mask="url(#hm)"/><path d="M303.8,461.8 C309.8,471.3 303.8,480.3 301.8,490.3" fill="none" stroke="#2a2a2a" stroke-width="3.2" opacity="0.9"/><path d="M308.4,462.4 C314.4,472.3 308.4,481.3 306.4,491.8" fill="none" stroke="#6a6a6a" stroke-width="2.2" opacity="0.9"/><path d="M313.0,463.0 C319.0,473.3 313.0,482.3 311.0,493.3" fill="none" stroke="#1e1e1e" stroke-width="2.6" opacity="0.9"/><path d="M297.8,463.3 C302.8,458.8 312.8,458.8 318.8,463.3 C316.8,469.3 317.8,474.3 323.8,480.3 C328.8,484.3 331.3,487.3 330.3,491.3 C327.8,495.3 323.8,498.3 319.8,500.8 C313.8,493.3 305.8,496.3 301.4,490.9 C297.8,488.3 295.8,486.3 295.4,484.9 C295.8,479.3 299.8,473.3 300.2,470.5 C299.8,467.3 298.8,465.3 297.8,463.3Z" fill="none" stroke="#111" stroke-width="1.3" stroke-linejoin="round"/>
<path d="M270.2,447.0 C275.2,442.5 285.2,442.5 291.2,447.0 C289.2,453.0 290.2,458.0 296.2,464.0 C301.2,468.0 303.7,471.0 302.7,475.0 C300.2,479.0 296.2,482.0 292.2,484.5 C286.2,477.0 278.2,480.0 273.8,474.6 C270.2,472.0 268.2,470.0 267.8,468.6 C268.2,463.0 272.2,457.0 272.6,454.2 C272.2,451.0 271.2,449.0 270.2,447.0Z" fill="url(#cupd)" stroke="#111" stroke-width="1.3" stroke-linejoin="round"/><path d="M270.2,447.0 C275.2,442.5 285.2,442.5 291.2,447.0 C289.2,453.0 290.2,458.0 296.2,464.0 C301.2,468.0 303.7,471.0 302.7,475.0 C300.2,479.0 296.2,482.0 292.2,484.5 C286.2,477.0 278.2,480.0 273.8,474.6 C270.2,472.0 268.2,470.0 267.8,468.6 C268.2,463.0 272.2,457.0 272.6,454.2 C272.2,451.0 271.2,449.0 270.2,447.0Z" fill="url(#hatch)" mask="url(#hm)"/><path d="M276.2,445.5 C282.2,455.0 276.2,464.0 274.2,474.0" fill="none" stroke="#2a2a2a" stroke-width="3.2" opacity="0.9"/><path d="M280.8,446.1 C286.8,456.0 280.8,465.0 278.8,475.5" fill="none" stroke="#6a6a6a" stroke-width="2.2" opacity="0.9"/><path d="M285.4,446.7 C291.4,457.0 285.4,466.0 283.4,477.0" fill="none" stroke="#1e1e1e" stroke-width="2.6" opacity="0.9"/><path d="M270.2,447.0 C275.2,442.5 285.2,442.5 291.2,447.0 C289.2,453.0 290.2,458.0 296.2,464.0 C301.2,468.0 303.7,471.0 302.7,475.0 C300.2,479.0 296.2,482.0 292.2,484.5 C286.2,477.0 278.2,480.0 273.8,474.6 C270.2,472.0 268.2,470.0 267.8,468.6 C268.2,463.0 272.2,457.0 272.6,454.2 C272.2,451.0 271.2,449.0 270.2,447.0Z" fill="none" stroke="#111" stroke-width="1.3" stroke-linejoin="round"/>
<path d="M277,470 L297,460.5" stroke="#0b0b0b" stroke-width="3" stroke-linecap="round"/>
<path d="M497,597 L516,586" stroke="#0b0b0b" stroke-width="3" stroke-linecap="round"/>
</g>
<g id="strips">
<path d="M187.0,449.0 L466.0,608.2" stroke="#2c2c2c" stroke-width="4" stroke-linecap="round"/><path d="M187.0,449.0 L466.0,608.2" stroke="#ffffff" stroke-width="2.4" stroke-linecap="round"/><path d="M192.6,445.6 L471.6,606.6" stroke="#2c2c2c" stroke-width="4" stroke-linecap="round"/><path d="M192.6,445.6 L471.6,606.6" stroke="#ffffff" stroke-width="2.4" stroke-linecap="round"/>
<path d="M184.2,521.6 L464.0,680.6" stroke="#2c2c2c" stroke-width="4" stroke-linecap="round"/><path d="M184.2,521.6 L464.0,680.6" stroke="#ffffff" stroke-width="2.4" stroke-linecap="round"/><path d="M189.8,518.2 L469.6,679.0" stroke="#2c2c2c" stroke-width="4" stroke-linecap="round"/><path d="M189.8,518.2 L469.6,679.0" stroke="#ffffff" stroke-width="2.4" stroke-linecap="round"/>
</g>
<g id="glass">
<polygon points="117.5,489.2 120.5,487.2 396.7,647.0 393.6,648.7" fill="#f2f2f2" stroke="#3a3a3a" stroke-width="0.8" stroke-linejoin="round" />
<polygon points="393.6,648.7 396.7,647.0 394.0,731.2 390.0,730.5" fill="#f4f4f4" stroke="#3a3a3a" stroke-width="0.8" stroke-linejoin="round" />
<polygon points="117.5,489.2 393.6,648.7 390.0,730.5 115.0,572.0" fill="url(#glassg)" stroke="#3a3a3a" stroke-width="0.9" stroke-linejoin="round" />
</g>
<g id="rightparts">
<polygon points="738.7,512.5 743.7,505.6 762.5,494.4 786.2,493.5 801.2,513.7 803.0,522.5 801.2,538.7 794.9,558.7 774.9,577.4 762.5,587.4 750.0,598.6 741.2,594.9 736.2,586.1 740.0,577.4 743.7,564.9 745.0,544.9 743.7,522.5" fill="#121212" stroke="#000" stroke-width="0.9" stroke-linejoin="round" />
<polygon points="743.7,505.6 762.5,494.4 786.2,493.5 801.2,513.7 799.9,517.5 788.7,506.2 774.9,510.0 772.4,516.2 756.8,520.0 752.5,510.0" fill="#1b1b1b" />
<polygon points="756.8,520.0 772.4,516.2 776.2,528.7 761.2,536.2" fill="#343434" />
<polygon points="774.9,510.0 788.7,506.2 799.9,517.5 798.7,526.2 776.2,528.7 772.4,516.2" fill="#2a2a2a" />
<polygon points="761.2,536.2 776.2,528.7 798.7,526.2 800.5,537.4 774.9,544.9 756.2,544.9" fill="#242424" />
<polygon points="774.9,544.9 800.5,537.4 794.9,558.7 774.9,577.4" fill="#1a1a1a" />
<polygon points="756.2,544.9 774.9,544.9 774.9,577.4 762.5,587.4 756.2,564.9" fill="#101010" />
<polygon points="743.7,505.6 752.5,510.0 756.8,520.0 761.2,536.2 756.2,544.9 745.0,544.9 743.7,522.5 738.7,512.5" fill="#151515" />
<polygon points="745.0,544.9 756.2,544.9 756.2,564.9 762.5,587.4 750.0,598.6 741.2,594.9 736.2,586.1 740.0,577.4 743.7,564.9" fill="#0d0d0d" />
<path d="M752.5,510.0 L756.8,520.0 L761.2,536.2 L756.2,544.9 L756.2,564.9 L762.5,587.4 M756.8,520.0 L772.4,516.2 L774.9,510.0 M761.2,536.2 L776.2,528.7 L798.7,526.2 M756.2,544.9 L774.9,544.9 L800.5,537.4 M774.9,544.9 L774.9,577.4 M745.0,544.9 L756.2,544.9 M744.4,554.9 L756.2,556.2 M743.7,564.9 L756.2,564.9 M772.4,516.2 L776.2,528.7" stroke="#050505" stroke-width="0.9" fill="none"/>
<ellipse cx="767.4" cy="508.7" rx="3.9" ry="4.9" transform="rotate(20 767.4 508.7)" fill="#0a0a0a" stroke="#000" stroke-width="0.7"/><ellipse cx="768.2" cy="510.1" rx="2.6" ry="3.1" fill="#444"/><circle cx="765.4" cy="506.3" r="0.9" fill="#d8d8d8"/>
<ellipse cx="792.4" cy="510.0" rx="3.9" ry="4.9" transform="rotate(20 792.4 510.0)" fill="#0a0a0a" stroke="#000" stroke-width="0.7"/><ellipse cx="793.2" cy="511.4" rx="2.6" ry="3.1" fill="#444"/><circle cx="790.4" cy="507.6" r="0.9" fill="#d8d8d8"/>
<ellipse cx="784.3" cy="555.5" rx="6" ry="7.6" transform="rotate(20 784.3 555.5)" fill="#0c0c0c" stroke="#2c2c2c" stroke-width="0.8"/><ellipse cx="784.9" cy="555.9" rx="3" ry="4" transform="rotate(20 784.3 555.5)" fill="#454545" stroke="#222" stroke-width="0.8"/>
<g transform="translate(789,519.3) rotate(30.6)"><rect x="0" y="-3.2" width="20" height="6.4" rx="1.5" fill="#0e0e0e"/><rect x="18" y="-5.2" width="10" height="10.4" rx="2.6" fill="#202020"/><ellipse cx="26" cy="0" rx="2.4" ry="4.8" fill="#4a4a4a" stroke="#141414" stroke-width="0.7"/><ellipse cx="26.2" cy="0" rx="1.2" ry="2.6" fill="#161616"/></g>
<g transform="translate(810.8,521) rotate(32)"><rect x="0" y="-3.2" width="22" height="6.4" rx="1.5" fill="#0e0e0e"/><rect x="20" y="-5.2" width="10" height="10.4" rx="2.6" fill="#202020"/><ellipse cx="28" cy="0" rx="2.4" ry="4.8" fill="#4a4a4a" stroke="#141414" stroke-width="0.7"/><ellipse cx="28.2" cy="0" rx="1.2" ry="2.6" fill="#161616"/></g>
<g transform="translate(807.3,569) rotate(31.5)"><rect x="0" y="-3.2" width="23" height="6.4" rx="1.5" fill="#0e0e0e"/><rect x="21" y="-5.2" width="10" height="10.4" rx="2.6" fill="#202020"/><ellipse cx="29" cy="0" rx="2.4" ry="4.8" fill="#4a4a4a" stroke="#141414" stroke-width="0.7"/><ellipse cx="29.2" cy="0" rx="1.2" ry="2.6" fill="#161616"/></g>
<g transform="translate(784.3,596.7) rotate(32.5)"><rect x="0" y="-3.2" width="22" height="6.4" rx="1.5" fill="#0e0e0e"/><rect x="20" y="-5.2" width="10" height="10.4" rx="2.6" fill="#202020"/><ellipse cx="28" cy="0" rx="2.4" ry="4.8" fill="#4a4a4a" stroke="#141414" stroke-width="0.7"/><ellipse cx="28.2" cy="0" rx="1.2" ry="2.6" fill="#161616"/></g>
<ellipse cx="802.4" cy="564.9" rx="8.7" ry="10.6" transform="rotate(22 802.4 564.9)" fill="#3a3a3a" stroke="#141414" stroke-width="1"/>
<path d="M796,558 Q793,566.5 798.4,574.6" fill="none" stroke="#c4c4c4" stroke-width="2.2"/>
<ellipse cx="803.2" cy="565.2" rx="4.8" ry="6.4" transform="rotate(22 803.2 565.2)" fill="#e4e4e4" stroke="#9c9c9c" stroke-width="1.5"/>
<g transform="translate(845,517) rotate(25) scale(1.18)"><ellipse cx="6" cy="0" rx="5" ry="8.5" fill="#8a8a8a" stroke="#222" stroke-width="0.8"/><ellipse cx="1" cy="0" rx="4.5" ry="7" fill="#9a9a9a" stroke="#222" stroke-width="0.8"/><ellipse cx="-4.5" cy="0" rx="5.2" ry="8.5" fill="#b5b5b5" stroke="#222" stroke-width="0.8"/><ellipse cx="-5" cy="0" rx="2.6" ry="4.4" fill="#ededed" stroke="#444" stroke-width="0.6"/></g>
<polygon points="821.9,660.0 871.5,635.0 886.6,645.0 839.5,672.5" fill="#e4e4e4" stroke="#2a2a2a" stroke-width="1" stroke-linejoin="round" />
<polygon points="821.9,660.0 839.5,672.5 839.5,675.0 821.9,662.5" fill="#9a9a9a" stroke="#2a2a2a" stroke-width="0.6" stroke-linejoin="round" />
<polygon points="863.1,566.0 858.5,564.8 855.0,565.5 839.4,580.9 833.0,596.0 826.8,613.7 821.9,660.0 871.5,635.2 866.0,618.0 859.0,599.8" fill="#c6c6c6" stroke="#2a2a2a" stroke-width="1" stroke-linejoin="round" />
<path d="M856,566 L840.6,581.4 L834.2,596.4 L828.2,614 L823.6,658.6" fill="none" stroke="#f6f6f6" stroke-width="1.5" stroke-linejoin="round"/>
<path d="M857.6,566 L842,582 L835.6,597 L829.6,614.5 L825.2,658" fill="none" stroke="#555" stroke-width="0.6" stroke-linejoin="round"/>
<path d="M826,660.5 L873,636.6" stroke="#555" stroke-width="0.6"/>
<ellipse cx="847.6" cy="591" rx="4.4" ry="5.6" transform="rotate(22 847.6 591)" fill="#ffffff" stroke="#2a2a2a" stroke-width="1"/>
<g transform="translate(845,660) rotate(-29)"><rect x="-5.4" y="-2.3" width="10.8" height="4.8" rx="2.2" fill="#fff" stroke="#2a2a2a" stroke-width="0.9"/></g>
<g transform="translate(866.5,647.5) rotate(-29)"><rect x="-5.4" y="-2.3" width="10.8" height="4.8" rx="2.2" fill="#fff" stroke="#2a2a2a" stroke-width="0.9"/></g>
<ellipse cx="875" cy="607" rx="12.4" ry="16.4" transform="rotate(20 875 607)" fill="#2e2e2e" stroke="#111" stroke-width="1"/><path d="M866.5,596 Q861.5,607 868,620" fill="none" stroke="#8a8a8a" stroke-width="1.2"/><ellipse cx="876" cy="607.5" rx="4.3" ry="5.8" transform="rotate(20 876 607.5)" fill="#d9d9d9" stroke="#111" stroke-width="0.8"/>
<ellipse cx="894.6" cy="617.4" rx="8.8" ry="10.8" transform="rotate(20 894.6 617.4)" fill="#444" stroke="#161616" stroke-width="1"/><ellipse cx="895.2" cy="617.7" rx="5" ry="6.6" transform="rotate(20 895.2 617.7)" fill="#eaeaea" stroke="#9a9a9a" stroke-width="1.8"/>
<g transform="translate(903,622) rotate(31)"><rect x="0" y="-5" width="24" height="10" rx="2" fill="#131313"/><ellipse cx="28" cy="0" rx="7.5" ry="9.6" fill="#3c3c3c" stroke="#0c0c0c" stroke-width="0.8"/><ellipse cx="26.5" cy="-2" rx="4.5" ry="6" fill="#565656" opacity="0.8"/><ellipse cx="30.5" cy="0.5" rx="2.2" ry="2.8" fill="#151515"/><circle cx="30.8" cy="0.6" r="0.8" fill="#ccc"/></g>
</g>
<g id="leaders">
<polygon points="188.0,299.5 435.0,325.8 435.0,330.4 188.0,307.5" fill="#214fa9" />
<polygon points="188.0,299.5 435.0,325.8 435.0,326.6 188.0,301.3" fill="#3466c4" />
<path d="M741,276 L494,461" stroke="#214fa9" stroke-width="5.2"/>
<path d="M602,535 L617.6,641" stroke="#214fa9" stroke-width="4.8"/>
<path d="M269.7,592.8 L202.7,679.5" stroke="#1f4a9e" stroke-width="3.7"/>
<circle cx="435" cy="328" r="7.6" fill="none" stroke="#e8e8e8" stroke-width="0.9" opacity="0.9"/><circle cx="435" cy="328" r="6" fill="#ffffff" stroke="#4a4a4a" stroke-width="1.7"/>
<circle cx="494" cy="461" r="7.6" fill="none" stroke="#e8e8e8" stroke-width="0.9" opacity="0.9"/><circle cx="494" cy="461" r="6" fill="#ffffff" stroke="#4a4a4a" stroke-width="1.7"/>
<circle cx="602" cy="535" r="7.6" fill="none" stroke="#e8e8e8" stroke-width="0.9" opacity="0.9"/><circle cx="602" cy="535" r="6" fill="#ffffff" stroke="#4a4a4a" stroke-width="1.7"/>
<circle cx="269.7" cy="592.8" r="8.3" fill="#ffffff" stroke="#5b86d0" stroke-width="0.8"/><circle cx="269.7" cy="592.8" r="5.9" fill="#1f4a9e"/>
</g>
<g id="circ1">
<g clip-path="url(#c1)">
<rect x="30" y="160" width="180" height="180" fill="#ffffff"/>
<polygon points="30.0,214.5 210.0,218.5 210.0,276.0 30.0,263.5" fill="#434343" />
<g opacity="0.55"><polygon points="30.0,214.5 210.0,218.5 210.0,276.0 30.0,263.5" fill="#fff" filter="url(#speck)"/></g>
<polygon points="30.0,263.5 210.0,276.0 210.0,324.0 30.0,318.0" fill="#050505" />
<polygon points="30.0,216.0 210.0,220.0 210.0,221.5 30.0,217.5" fill="#2a2a2a" />
<ellipse cx="142" cy="309" rx="30" ry="11" fill="#1d1d1d" filter="url(#blur4)"/>
<polygon points="30.0,317.8 210.0,323.8 210.0,345.0 30.0,345.0" fill="#ececec" />
<path d="M85,326 C95,322 104,329 112,325 C120,321 126,328 135,326 C142,324 150,329 158,326" fill="none" stroke="#9c9c9c" stroke-width="2.2" opacity="0.8" filter="url(#blur1)"/>
<path d="M92,330 C100,327 110,332 120,329 C128,327 136,331 146,329" fill="none" stroke="#b8b8b8" stroke-width="2" opacity="0.8" filter="url(#blur1)"/>
<path d="M68,311.5 L172,313.8" stroke="#d8d2ca" stroke-width="0.9" stroke-dasharray="1 3 2 4 1 2 3 5 9 2 4 3 2 4 1 3 5 2 1 4" opacity="0.75"/>
<path d="M74,315.6 L166,318" stroke="#8a6a5a" stroke-width="1.1" stroke-dasharray="2 3 1 4 3 2 6 3 1 5 8 2 2 4" opacity="0.8"/>
<path d="M70,313.6 L170,316" stroke="#6a6a6a" stroke-width="0.8" stroke-dasharray="1 5 2 3 1 6 3 4" opacity="0.7"/>
</g>
<circle cx="118.8" cy="250.4" r="84.1" fill="none" stroke="url(#rg1)" stroke-width="6.8"/>
</g>
<g id="circ2">
<g clip-path="url(#c2)">
<rect x="730" y="150" width="190" height="190" fill="#2a2d31"/>
<path d="M730,300 L790,300 L815,322 L920,322 M860,150 L830,185 L830,215 M790,150 L790,180 L760,205" stroke="#363a3f" stroke-width="5" fill="none"/>
<polygon points="886.0,185.0 925.0,170.0 925.0,275.0 900.0,262.0 886.0,230.0" fill="#3b413e" />
<path d="M884.5,190 C884,215 889,240 898,262" fill="none" stroke="#f0f0f0" stroke-width="1.6"/>
<path d="M888.5,186 C888,213 893,238 902,259" fill="none" stroke="#d8d8d8" stroke-width="1.2"/>
<rect x="839" y="184" width="16" height="17" rx="2.2" fill="none" stroke="#f4f4f4" stroke-width="1.6" transform="rotate(-8 847.0 192.5)"/>
<rect x="843" y="188" width="8" height="9" fill="#e9e9e9" transform="rotate(-8 847.0 192.5)"/>
<rect x="860" y="183" width="14" height="17" rx="2.2" fill="none" stroke="#f4f4f4" stroke-width="1.6" transform="rotate(-8 867.0 191.5)"/>
<rect x="863" y="187" width="5" height="9" fill="#3a3a3a" transform="rotate(-8 865.5 191.5)"/>
<rect x="855" y="189" width="6" height="4" fill="#bdbdbd" transform="rotate(-8 858.0 191.0)"/>
<rect x="772" y="188" width="17" height="15" rx="2.2" fill="none" stroke="#f4f4f4" stroke-width="1.6" transform="rotate(-12 780.5 195.5)"/>
<rect x="777" y="197" width="8" height="7" fill="#4a4a4a" transform="rotate(-12 781.0 200.5)"/>
<rect x="778" y="206" width="16" height="15" rx="2.2" fill="none" stroke="#f4f4f4" stroke-width="1.6" transform="rotate(-12 786.0 213.5)"/>
<rect x="782" y="210" width="9" height="5" fill="#d0d0d0" transform="rotate(-12 786.5 212.5)"/>
<rect x="756" y="196" width="11" height="18" rx="2.2" fill="none" stroke="#f4f4f4" stroke-width="1.6" transform="rotate(-12 761.5 205.0)"/>
<rect x="759" y="203" width="6" height="8" fill="#7d8f8a" transform="rotate(-12 762.0 207.0)"/>
<rect x="756" y="217" width="17" height="14" rx="2.2" fill="none" stroke="#f4f4f4" stroke-width="1.6" transform="rotate(-12 764.5 224.0)"/>
<rect x="760" y="220" width="9" height="4" fill="#d8d8d8" transform="rotate(-12 764.5 222.0)"/>
<rect x="767" y="231" width="19" height="11" rx="2.2" fill="none" stroke="#f4f4f4" stroke-width="1.6" transform="rotate(-14 776.5 236.5)"/>
<rect x="771" y="234" width="10" height="5" fill="#efe9c8" transform="rotate(-14 776.0 236.5)"/>
<rect x="779" y="243" width="18" height="9" rx="2.2" fill="none" stroke="#f4f4f4" stroke-width="1.6" transform="rotate(-14 788.0 247.5)"/>
<rect x="783" y="245.5" width="9" height="4" fill="#bdbdbd" transform="rotate(-14 787.5 247.5)"/>
<rect x="769.5" y="256" width="14" height="13" rx="2.2" fill="none" stroke="#f4f4f4" stroke-width="1.6" transform="rotate(-14 776.5 262.5)"/>
<rect x="773" y="260" width="5" height="5" fill="#bbb" transform="rotate(-14 775.5 262.5)"/>
<rect x="794" y="254" width="14" height="12" rx="2.2" fill="none" stroke="#f4f4f4" stroke-width="1.6" transform="rotate(-14 801.0 260.0)"/>
<rect x="797" y="257" width="7" height="5" fill="#8a8a8a" transform="rotate(-14 800.5 259.5)"/>
<rect x="797" y="274" width="15" height="13" rx="2.2" fill="none" stroke="#f4f4f4" stroke-width="1.6" transform="rotate(-12 804.5 280.5)"/>
<rect x="800" y="277" width="8" height="5" fill="#cfcfcf" transform="rotate(-12 804.0 279.5)"/>
<rect x="771" y="275" width="11" height="10" fill="#f0f0f0" transform="rotate(-18 776.5 280.0)"/>
<rect x="772" y="296" width="11" height="13" fill="#f0f0f0" transform="rotate(-14 777.5 302.5)"/>
<rect x="757" y="290" width="8" height="10" fill="#e8e8e8" transform="rotate(-14 761.0 295.0)"/>
<rect x="866" y="214" width="19" height="22" rx="2.2" fill="none" stroke="#f4f4f4" stroke-width="1.6" transform="rotate(-6 875.5 225.0)"/>
<rect x="870" y="222" width="9" height="8" fill="#4a4a4a" transform="rotate(-6 874.5 226.0)"/>
<rect x="817" y="262" width="17" height="18" rx="2.2" fill="#f2f2f2" stroke="#f4f4f4" stroke-width="1.6" transform="rotate(-8 825.5 271.0)"/>
<rect x="847" y="256" width="14" height="16" rx="2.2" fill="none" stroke="#f4f4f4" stroke-width="1.6" transform="rotate(-8 854.0 264.0)"/>
<rect x="850" y="259" width="5" height="10" fill="#ddd" transform="rotate(-8 852.5 264.0)"/>
<rect x="866" y="246" width="18" height="14" rx="2.2" fill="none" stroke="#f4f4f4" stroke-width="1.6" transform="rotate(-6 875.0 253.0)"/>
<rect x="872" y="249" width="8" height="6" fill="#e8e2c4" transform="rotate(-6 876.0 252.0)"/>
<rect x="872" y="268" width="14" height="10" rx="2.2" fill="none" stroke="#f4f4f4" stroke-width="1.6" transform="rotate(-6 879.0 273.0)"/>
<rect x="874" y="270" width="8" height="5" fill="#6a6a6a" transform="rotate(-6 878.0 272.5)"/>
<rect x="834" y="315" width="40" height="16" rx="2.2" fill="none" stroke="#f4f4f4" stroke-width="1.6" transform="rotate(-5 854.0 323.0)"/>
<rect x="867" y="266" width="6" height="5" fill="#e8e8e8" transform="rotate(-8 870.0 268.5)"/>
<rect x="875" y="264.5" width="6" height="5" fill="#d8d8d8" transform="rotate(-8 878.0 267.0)"/>
<rect x="883" y="263" width="6" height="5" fill="#f0f0f0" transform="rotate(-8 886.0 265.5)"/>
<rect x="869" y="275" width="5" height="6" fill="#cfcfcf" transform="rotate(-8 871.5 278.0)"/>
<rect x="879" y="273" width="6" height="6" fill="#e8e8e8" transform="rotate(-8 882.0 276.0)"/>
<rect x="888" y="271" width="5" height="7" fill="#f0f0f0" transform="rotate(-8 890.5 274.5)"/>
<rect x="864" y="261" width="30" height="20" rx="1.5" fill="none" stroke="#f4f4f4" stroke-width="1.1" transform="rotate(-8 879.0 271.0)"/>
<g transform="rotate(-5 835 238)">
<rect x="828" y="224" width="27" height="26" fill="#1c1e22"/>
<rect x="813" y="226.0" width="13" height="1.9" fill="#f2f2f2"/>
<rect x="851" y="222.0" width="6" height="1.6" fill="#c9c9c9"/>
<rect x="813" y="229.6" width="13" height="1.9" fill="#f2f2f2"/>
<rect x="851" y="225.6" width="6" height="1.6" fill="#c9c9c9"/>
<rect x="813" y="233.2" width="13" height="1.9" fill="#f2f2f2"/>
<rect x="851" y="229.2" width="6" height="1.6" fill="#c9c9c9"/>
<rect x="813" y="236.8" width="13" height="1.9" fill="#f2f2f2"/>
<rect x="851" y="232.8" width="6" height="1.6" fill="#c9c9c9"/>
<rect x="813" y="240.4" width="13" height="1.9" fill="#f2f2f2"/>
<rect x="851" y="236.4" width="6" height="1.6" fill="#c9c9c9"/>
<rect x="813" y="244.0" width="13" height="1.9" fill="#f2f2f2"/>
<rect x="851" y="240.0" width="6" height="1.6" fill="#c9c9c9"/>
<rect x="813" y="247.6" width="13" height="1.9" fill="#f2f2f2"/>
<rect x="851" y="243.6" width="6" height="1.6" fill="#c9c9c9"/>
<rect x="813" y="251.2" width="13" height="1.9" fill="#f2f2f2"/>
<rect x="851" y="247.2" width="6" height="1.6" fill="#c9c9c9"/>
<rect x="832" y="230" width="9" height="8" fill="#8aa0c8" opacity="0.8"/><rect x="838" y="236" width="8" height="9" fill="#c8d2e6" opacity="0.7"/><circle cx="834" cy="229" r="2.2" fill="#e8e8e8"/>
</g>
<circle cx="839" cy="267" r="2.3" fill="#5a5d62"/>
<text x="842" y="182" font-size="10" font-weight="bold" fill="#f6f6f6" transform="rotate(-8 842 182)">R10</text>
<text x="792" y="207" font-size="10" font-weight="bold" fill="#f6f6f6" transform="rotate(-10 792 207)">R6</text>
<text x="823" y="221" font-size="9.5" font-weight="bold" fill="#f6f6f6" transform="rotate(-6 823 221)">U1</text>
<text x="860.5" y="213" font-size="9.5" font-weight="bold" fill="#f6f6f6" transform="rotate(-6 860.5 213)">R11</text>
<text x="743" y="247.5" font-size="10" font-weight="bold" fill="#f6f6f6" transform="rotate(-10 743 247.5)">C17</text>
<text x="748" y="273" font-size="10" font-weight="bold" fill="#f6f6f6" transform="rotate(-12 748 273)">NT1</text>
<text x="836" y="289" font-size="10" font-weight="bold" fill="#f6f6f6" transform="rotate(-8 836 289)">R17</text>
<text x="802" y="296" font-size="9.5" font-weight="bold" fill="#f6f6f6" transform="rotate(-8 802 296)">R4</text>
<text x="832.5" y="313" font-size="12" font-weight="bold" fill="#f6f6f6" transform="rotate(-6 832.5 313)">LED2</text>
<text x="760" y="258" font-size="8" font-weight="bold" fill="#f6f6f6" transform="rotate(-10 760 258)">R</text>
<text x="863" y="290" font-size="8" font-weight="bold" fill="#f6f6f6" transform="rotate(-8 863 290)">R1</text>
<text x="871" y="299" font-size="8" font-weight="bold" fill="#f6f6f6" transform="rotate(-8 871 299)">R</text>
</g>
<circle cx="822.5" cy="244.2" r="85.6" fill="none" stroke="url(#rg2)" stroke-width="7"/>
</g>
<g id="circ3">
<g clip-path="url(#c3)">
<rect x="510" y="630" width="190" height="190" fill="#0b0b0b"/>
<g opacity="0.35"><rect x="510" y="630" width="190" height="190" fill="#fff" filter="url(#speck2)"/></g>
<text x="547" y="668.3" font-size="25.8" fill="#d2caa0" stroke="#d2caa0" stroke-width="0.5" textLength="110" lengthAdjust="spacingAndGlyphs">LED20</text>
<path d="M567,724 L567,681.5 L643.5,681.5 L643.5,724 M643.5,741 L643.5,766.5 L567,766.5 L567,741" fill="none" stroke="#a0976e" stroke-width="3.2"/>
<rect x="572.5" y="682.5" width="67" height="79.5" rx="1.5" fill="#f4f1ec"/>
<rect x="572.5" y="757.5" width="67" height="4.5" fill="#ddd6da"/>
<rect x="575.5" y="686.5" width="60.5" height="67" rx="13" fill="url(#ledg)" filter="url(#blur2)"/>
<path d="M606.3,775 L608.2,781.4 L615,783.6 L608.2,785.8 L606.3,793 L604.4,785.8 L597.4,783.6 L604.4,781.4Z" fill="#dcd2a8" stroke="#dcd2a8" stroke-width="1.2" stroke-linejoin="round"/>
</g>
<circle cx="602.4" cy="723.4" r="84.6" fill="none" stroke="url(#rg3)" stroke-width="7"/>
</g>
<g id="circ4">
<g clip-path="url(#c4)">
<rect x="45" y="640" width="182" height="182" fill="url(#lexg)"/>
<polygon points="104.0,666.0 150.0,648.0 225.0,640.0 225.0,722.0 113.0,783.0" fill="#dfe2e7" opacity="0.7"/>
<polygon points="99.3,667.5 105.5,665.0 113.2,783.5 107.0,781.0" fill="#050505" />
<path d="M99.5,667.5 L147,649.5" stroke="#0a0a0a" stroke-width="2.2"/>
<path d="M106.5,665.5 L114,783.5" stroke="#ffffff" stroke-width="1.4"/>
<path d="M114,783 L216,727" stroke="#aeb2b8" stroke-width="0.9"/>
</g>
<circle cx="135.6" cy="729.5" r="83.7" fill="none" stroke="url(#rg4)" stroke-width="6.5"/>
</g>
<g id="labels">
<text x="54.2" y="128" font-size="23.4" fill="#000" stroke="#000" stroke-width="0.3" textLength="199.8" lengthAdjust="spacingAndGlyphs">NO Screw Design</text>
<text x="690.8" y="71" font-size="23.2" fill="#000" stroke="#000" stroke-width="0.3" textLength="212.6" lengthAdjust="spacingAndGlyphs">High Quality PCBA</text>
<text x="656.0" y="102" font-size="23.2" fill="#000" stroke="#000" stroke-width="0.3" textLength="270.0" lengthAdjust="spacingAndGlyphs">Intelligent Temp Control</text>
<text x="709.0" y="130.8" font-size="23.2" fill="#000" stroke="#000" stroke-width="0.3" textLength="186.4" lengthAdjust="spacingAndGlyphs">Anti-interference</text>
<text x="242.5" y="763.7" font-size="22.7" fill="#000" stroke="#000" stroke-width="0.55" textLength="164.1" lengthAdjust="spacingAndGlyphs">Anti-break and</text>
<text x="220.5" y="790.7" font-size="22.7" fill="#000" stroke="#000" stroke-width="0.55" textLength="209.5" lengthAdjust="spacingAndGlyphs">Anti-scratch Lexan</text>
<text x="709.4" y="747.2" font-size="23" fill="#000" stroke="#000" stroke-width="0.4" textLength="188.2" lengthAdjust="spacingAndGlyphs">Original A Grade</text>
<text x="745.0" y="782.3" font-size="23" fill="#000" stroke="#000" stroke-width="0.4" textLength="114.8" lengthAdjust="spacingAndGlyphs">Led Chips</text>
<text transform="translate(120.0,942) scale(1.085,1)" x="0" y="0" font-size="27.3" fill="#000" textLength="76.5" lengthAdjust="spacing">Super</text>
<text transform="translate(92.0,966.7) scale(1.085,1)" x="0" y="0" font-size="27.3" fill="#000" textLength="137.5" lengthAdjust="spacing">Brightness</text>
<text transform="translate(344.0,942) scale(1.085,1)" x="0" y="0" font-size="27.3" fill="#000" textLength="79.1" lengthAdjust="spacing">IP69K</text>
<text transform="translate(311.0,966.7) scale(1.085,1)" x="0" y="0" font-size="27.3" fill="#000" textLength="141.8" lengthAdjust="spacing">Waterproof</text>
<text transform="translate(568.4,942) scale(1.085,1)" x="0" y="0" font-size="27.3" fill="#000" textLength="62.2" lengthAdjust="spacing">Heat</text>
<text transform="translate(528.4,966.7) scale(1.085,1)" x="0" y="0" font-size="27.3" fill="#000" textLength="143.6" lengthAdjust="spacing">Dissipation</text>
<text transform="translate(801.4,942) scale(1.085,1)" x="0" y="0" font-size="27.3" fill="#000" textLength="64.5" lengthAdjust="spacing">Long</text>
<text transform="translate(781.0,966.7) scale(1.085,1)" x="0" y="0" font-size="27.3" fill="#000" textLength="110.2" lengthAdjust="spacing">Lifespan</text>
</g>
<g id="icons">
<ellipse cx="267.9" cy="866" rx="1.9" ry="43" fill="#333" filter="url(#blur08)"/>
<ellipse cx="503.7" cy="866" rx="1.9" ry="43" fill="#333" filter="url(#blur08)"/>
<ellipse cx="713.9" cy="866" rx="1.9" ry="43" fill="#333" filter="url(#blur08)"/>
<circle cx="165.4" cy="869.4" r="22" fill="#000" opacity="0.10" filter="url(#blur2)"/>
<circle cx="165.4" cy="869.4" r="20.1" fill="#2b2b2b"/>
<path d="M192.4,869.4 L199.0,869.4" stroke="#2b2b2b" stroke-width="2.9" stroke-linecap="round"/>
<path d="M184.5,888.5 L189.2,893.2" stroke="#2b2b2b" stroke-width="2.9" stroke-linecap="round"/>
<path d="M165.4,896.4 L165.4,903.0" stroke="#2b2b2b" stroke-width="2.9" stroke-linecap="round"/>
<path d="M146.3,888.5 L141.6,893.2" stroke="#2b2b2b" stroke-width="2.9" stroke-linecap="round"/>
<path d="M138.4,869.4 L131.8,869.4" stroke="#2b2b2b" stroke-width="2.9" stroke-linecap="round"/>
<path d="M146.3,850.3 L141.6,845.6" stroke="#2b2b2b" stroke-width="2.9" stroke-linecap="round"/>
<path d="M165.4,842.4 L165.4,835.8" stroke="#2b2b2b" stroke-width="2.9" stroke-linecap="round"/>
<path d="M184.5,850.3 L189.2,845.6" stroke="#2b2b2b" stroke-width="2.9" stroke-linecap="round"/>
<path d="M380.3,844.4 C376,851 369,860 365.3,867.6 A17.8,17.8 0 1 0 395.3,867.6 C391.5,860 384.5,851 380.3,844.4Z" fill="none" stroke="#2b2b2b" stroke-width="3.6" stroke-linejoin="miter" stroke-miterlimit="6"/>
<path d="M369,878.3 C369,876.2 372,876.4 372.6,878.4 C374,881 377,882.2 378.2,885 C379.2,888 376.6,889.2 374.4,888 C371.4,886.4 369.4,882 369,878.3Z" fill="#2b2b2b"/>
<path d="M401.5,849 C399,853 397,855.5 395,858 C399,863 403,871 403.5,880.6 C409,879.6 413,874.6 413,868.5 C413,861 405,853.5 401.5,849Z" fill="#2b2b2b"/>
<path transform="translate(607.5,869.5) rotate(0)" d="M-6.7,-5 C-9,-9 -10.5,-14 -10.3,-20.5 C-10,-25 -5,-27.5 0.5,-27.5 C5,-27.5 9.5,-26.5 10.5,-22 C11,-19 9,-16 2.5,-13 C-1,-11 -4,-8 -6.7,-5Z" fill="none" stroke="#2b2b2b" stroke-width="3.5" stroke-linejoin="round"/><path transform="translate(607.5,869.5) rotate(90)" d="M-6.7,-5 C-9,-9 -10.5,-14 -10.3,-20.5 C-10,-25 -5,-27.5 0.5,-27.5 C5,-27.5 9.5,-26.5 10.5,-22 C11,-19 9,-16 2.5,-13 C-1,-11 -4,-8 -6.7,-5Z" fill="none" stroke="#2b2b2b" stroke-width="3.5" stroke-linejoin="round"/><path transform="translate(607.5,869.5) rotate(180)" d="M-6.7,-5 C-9,-9 -10.5,-14 -10.3,-20.5 C-10,-25 -5,-27.5 0.5,-27.5 C5,-27.5 9.5,-26.5 10.5,-22 C11,-19 9,-16 2.5,-13 C-1,-11 -4,-8 -6.7,-5Z" fill="none" stroke="#2b2b2b" stroke-width="3.5" stroke-linejoin="round"/><path transform="translate(607.5,869.5) rotate(270)" d="M-6.7,-5 C-9,-9 -10.5,-14 -10.3,-20.5 C-10,-25 -5,-27.5 0.5,-27.5 C5,-27.5 9.5,-26.5 10.5,-22 C11,-19 9,-16 2.5,-13 C-1,-11 -4,-8 -6.7,-5Z" fill="none" stroke="#2b2b2b" stroke-width="3.5" stroke-linejoin="round"/>
<path d="M880.6,857.5 C876,855 872,854.5 868.5,853.6 C863,851.5 857,850 851,849.2 C846,848.2 842,848 837.7,848 C832,848.5 827,850 823.5,852 C819,854 816,857 813.6,859.7 C811,863 810.2,866 810.3,868.5 C810.3,871 811,873.5 812,875 C810,876.2 808.5,877 807,877.8 C805.5,878.8 804,879.8 802.6,880.5 C801,881.5 799.5,882.2 798,882.7 C799,884.2 800.2,885.5 801.5,886.6 C803,885.2 804.5,883.8 805.9,882.7 C807.3,881.6 808.8,880.7 810.3,880 C812,882.3 814,884.3 816.9,886 C820.5,888.5 824.5,890.3 829,891 C833.5,891.5 838,891.3 842,890 C846,888.5 849.5,886 853,882.7 C856,879.8 859,876.5 862,872.9 C865,869.8 867.8,866.5 870.7,863 C873.5,860 876.8,858.5 880.6,857.5Z" fill="#2b2b2b"/>
<path d="M815.5,876.3 C828,872 843,867 855.5,864 C843,869.5 832,873.5 822.4,876.6 L830.6,881.2 C826,880.2 821,878.6 816.5,877.5Z" fill="#ffffff"/>
<path d="M830.5,869.6 L835.2,861 L833.8,870.2Z" fill="#ffffff"/>
</g>
</svg>
</body></html>
